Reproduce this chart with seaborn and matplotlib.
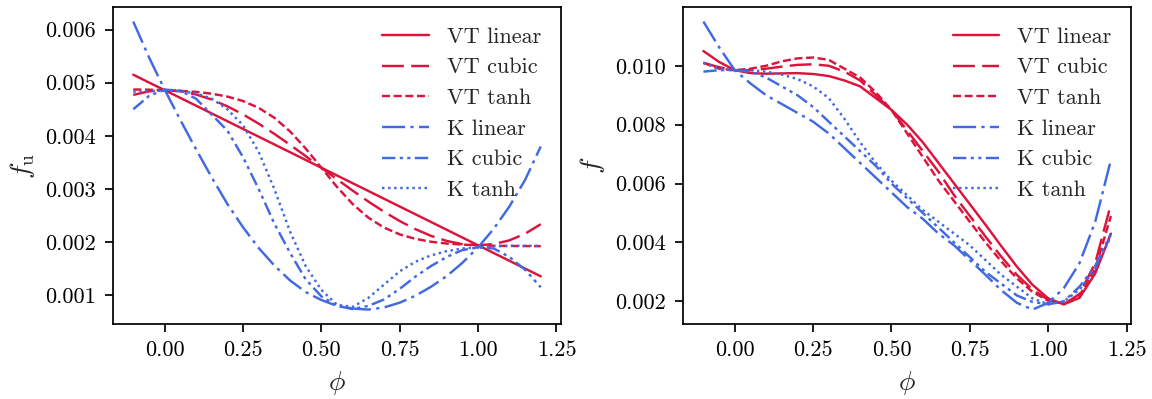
import numpy as np
import pandas as pd
import seaborn as sns
import matplotlib
import matplotlib.pyplot as plt

matplotlib.use('Agg')

# datos
phi = [-0.1, -0.05, 0.0, 0.05, 0.1, 0.15, 0.2, 0.25, 0.3, 0.35, 0.4, 0.45, 0.5,
       0.55, 0.6, 0.65, 0.7, 0.75, 0.8, 0.85, 0.9, 0.95, 1.0, 1.05, 1.1, 1.15, 1.2]

series_names = ["VT linear", "VT cubic", "VT tanh", "K linear", "K cubic", "K tanh"]

# panel izquierdo: f_u
fu_vt_linear = [0.00515, 0.005004, 0.00486, 0.004714, 0.004568, 0.004422, 0.004276, 0.00413,
                0.003984, 0.003838, 0.003692, 0.003546, 0.0034, 0.003254, 0.003108, 0.002962,
                0.002816, 0.00267, 0.002524, 0.002378, 0.002232, 0.002086, 0.00194, 0.001794,
                0.001648, 0.001502, 0.001356]
fu_vt_cubic = [0.00477, 0.004837, 0.00486, 0.004839, 0.004778, 0.004683, 0.004556, 0.004404,
               0.004229, 0.004037, 0.003832, 0.003618, 0.0034, 0.003182, 0.002968, 0.002763,
               0.002571, 0.002396, 0.002244, 0.002117, 0.002022, 0.001961, 0.00194, 0.001963,
               0.002033, 0.002157, 0.002337]
fu_vt_tanh = [0.004872, 0.004868, 0.00486, 0.004847, 0.004827, 0.004793, 0.004739, 0.004655,
              0.004527, 0.00434, 0.004084, 0.003762, 0.0034, 0.003038, 0.002716, 0.00246,
              0.002273, 0.002145, 0.002061, 0.002007, 0.001973, 0.001953, 0.00194, 0.001932,
              0.001927, 0.001925, 0.001923]
fu_k_linear = [0.00615, 0.00548, 0.00487, 0.0043, 0.00375, 0.00322, 0.00272, 0.00228,
               0.00189, 0.00156, 0.00128, 0.00106, 0.00091, 0.0008, 0.00075, 0.00073,
               0.00077, 0.00086, 0.00099, 0.00116, 0.00136, 0.00161, 0.0019, 0.00225,
               0.00267, 0.00317, 0.0038]
fu_k_cubic = [0.0045, 0.00475, 0.00487, 0.00485, 0.0047, 0.0044, 0.0041, 0.0036,
              0.0030, 0.00235, 0.0018, 0.0013, 0.00098, 0.0008, 0.00074, 0.0008,
              0.00092, 0.00112, 0.00135, 0.00155, 0.00172, 0.00185, 0.0019, 0.00188,
              0.00172, 0.00148, 0.00115]
fu_k_tanh = [0.00483, 0.00484, 0.00485, 0.00484, 0.0048, 0.0047, 0.0045, 0.0042,
             0.0037, 0.0030, 0.0022, 0.00155, 0.0011, 0.00082, 0.00078, 0.00095,
             0.0012, 0.00145, 0.00163, 0.00175, 0.00183, 0.00188, 0.0019, 0.00192,
             0.00193, 0.00193, 0.00193]

# panel derecho: f
f_vt_linear = [0.0105, 0.01013, 0.00985, 0.00975, 0.00973, 0.00974, 0.00975, 0.00972,
               0.00965, 0.0095, 0.0093, 0.0089, 0.0085, 0.0080, 0.0074, 0.0067,
               0.0060, 0.0053, 0.0046, 0.00388, 0.00318, 0.00256, 0.0021, 0.0019,
               0.00212, 0.00295, 0.0043]
f_vt_cubic = [0.0101, 0.00995, 0.00985, 0.00985, 0.0099, 0.00997, 0.01003, 0.01005,
              0.0100, 0.0098, 0.0095, 0.0090, 0.0085, 0.0078, 0.0071, 0.0064,
              0.0056, 0.0049, 0.0042, 0.00352, 0.0029, 0.0024, 0.00205, 0.0019,
              0.00225, 0.0033, 0.0053]
f_vt_tanh = [0.0101, 0.0099, 0.00985, 0.0099, 0.0100, 0.01015, 0.01025, 0.01028,
             0.0102, 0.0099, 0.0096, 0.0091, 0.0085, 0.0077, 0.0069, 0.0061,
             0.0054, 0.0047, 0.0040, 0.00336, 0.00278, 0.00232, 0.00202, 0.00192,
             0.0022, 0.0031, 0.0049]
f_k_linear = [0.0115, 0.01063, 0.00985, 0.0094, 0.0090, 0.0087, 0.0084, 0.0081,
              0.0077, 0.0072, 0.0067, 0.0062, 0.0057, 0.0052, 0.0048, 0.0043,
              0.0039, 0.0034, 0.0029, 0.00238, 0.00195, 0.00172, 0.00195, 0.00245,
              0.0033, 0.0047, 0.0068]
f_k_cubic = [0.0098, 0.00985, 0.00985, 0.0098, 0.0096, 0.0093, 0.0090, 0.0086,
             0.0081, 0.0076, 0.0071, 0.0066, 0.0060, 0.0055, 0.0050, 0.0045,
             0.0040, 0.0035, 0.0030, 0.0026, 0.0022, 0.00198, 0.0019, 0.0020,
             0.0025, 0.0032, 0.0043]
f_k_tanh = [0.0101, 0.0099, 0.00985, 0.00985, 0.0098, 0.0097, 0.00955, 0.0093,
            0.0089, 0.0082, 0.0074, 0.0067, 0.0061, 0.0056, 0.0051, 0.0047,
            0.0043, 0.0039, 0.0034, 0.0029, 0.0025, 0.0021, 0.0019, 0.0020,
            0.0024, 0.0031, 0.0042]

left_yticks = [0.001, 0.002, 0.003, 0.004, 0.005, 0.006]
right_yticks = [0.002, 0.004, 0.006, 0.008, 0.010]
xticks = [0.0, 0.25, 0.5, 0.75, 1.0, 1.25]

colores = {"VT": "crimson", "K": "royalblue"}
estilos = {
    "VT linear": "-",
    "VT cubic": (0, (9, 3)),
    "VT tanh": (0, (3.3, 1.5)),
    "K linear": (0, (9.5, 2.2, 1.3, 2.2)),
    "K cubic": (0, (5.5, 1.8, 1.3, 1.8, 1.3, 1.8)),
    "K tanh": (0, (1, 1.5)),
}

sns.set_style("ticks")
plt.rcParams['font.family'] = ['cmr10', 'DejaVu Serif']
plt.rcParams['mathtext.fontset'] = 'cm'
plt.rcParams['axes.formatter.use_mathtext'] = True
plt.rcParams['axes.linewidth'] = 1.25
plt.rcParams['xtick.major.width'] = 1.25
plt.rcParams['ytick.major.width'] = 1.25
plt.rcParams['xtick.major.size'] = 6
plt.rcParams['ytick.major.size'] = 6
plt.rcParams['xtick.major.pad'] = 6
plt.rcParams['ytick.major.pad'] = 6
plt.rcParams['axes.edgecolor'] = 'black'
plt.rcParams['xtick.color'] = 'black'
plt.rcParams['ytick.color'] = 'black'

fig, axes = plt.subplots(1, 2, figsize=(11.52, 3.99), dpi=100)
fig.subplots_adjust(left=0.098, right=0.982, bottom=0.188, top=0.982, wspace=0.272)

paneles = [
    (axes[0], [fu_vt_linear, fu_vt_cubic, fu_vt_tanh, fu_k_linear, fu_k_cubic, fu_k_tanh],
     r"$f_\mathrm{u}$", left_yticks),
    (axes[1], [f_vt_linear, f_vt_cubic, f_vt_tanh, f_k_linear, f_k_cubic, f_k_tanh],
     r"$f$", right_yticks),
]

for ax, valores, ylabel, yticks in paneles:
    for nombre, vals in zip(series_names, valores):
        color = colores[nombre.split()[0]]
        sns.lineplot(x=phi, y=vals, ax=ax, color=color, linewidth=1.75,
                     linestyle=estilos[nombre], label=nombre)
    ax.set_xticks(xticks)
    ax.set_xticklabels([f"{t:.2f}" for t in xticks])
    ax.set_yticks(yticks)
    ax.set_yticklabels([f"{t:.3f}" for t in yticks])
    ax.tick_params(labelsize=16)
    ax.set_xlabel(r"$\phi$", fontsize=20, labelpad=6)
    ax.set_ylabel(ylabel, fontsize=20, labelpad=6)
    ax.legend(loc="upper right", frameon=False, fontsize=16, handlelength=2.1)

plt.savefig("out.png", dpi=100)
plt.close()
